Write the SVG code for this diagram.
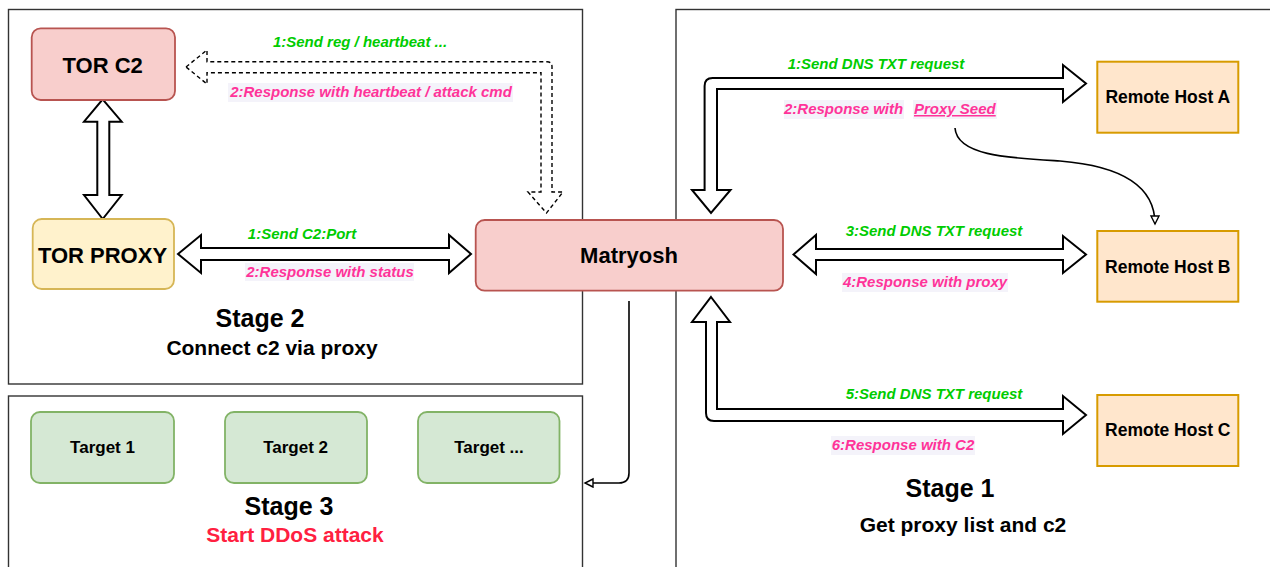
<svg xmlns="http://www.w3.org/2000/svg" width="1270" height="567" viewBox="0 0 1270 567">
<defs>
<style>
.panel{fill:#ffffff;stroke:#333333;stroke-width:1.4}
.red{fill:#f8cecc;stroke:#b85450;stroke-width:1.8}
.yel{fill:#fff2cc;stroke:#d6b656;stroke-width:1.8}
.org{fill:#ffe6cc;stroke:#d79b00;stroke-width:2}
.grn{fill:#d5e8d4;stroke:#82b366;stroke-width:1.8}
.flex{fill:#ffffff;stroke:#000000;stroke-width:2;stroke-linejoin:miter}
.dash{fill:#ffffff;stroke:#000000;stroke-width:1.4;stroke-dasharray:4 3}
.thin{fill:none;stroke:#000000;stroke-width:1.6}
.nt{font-family:"Liberation Sans",Arial,sans-serif;font-weight:bold;fill:#000000;text-anchor:middle}
.lg{font-family:"Liberation Sans",Arial,sans-serif;font-weight:bold;font-style:italic;font-size:15px;fill:#00cc00;text-anchor:middle}
.lp{font-family:"Liberation Sans",Arial,sans-serif;font-weight:bold;font-style:italic;font-size:15px;fill:#ff3399}
.lbg{fill:#f4f3fa}
</style>
<marker id="ah" markerUnits="userSpaceOnUse" markerWidth="12" markerHeight="12" refX="9" refY="5" orient="auto">
<path d="M1,1 L9,5 L1,9 Z" fill="#ffffff" stroke="#000000" stroke-width="1.4"/>
</marker>
</defs>

<g id="panels">
<rect id="panel-stage2" class="panel" x="8.5" y="9.5" width="574" height="374.5"/>
<rect id="panel-stage3" class="panel" x="8.5" y="396" width="574" height="180"/>
<rect id="panel-stage1" class="panel" x="676" y="9.5" width="610" height="570"/>
</g>

<g id="connectors">
<path class="flex" d="M102.7,99.3 L121.7,121.7 L109.3,121.7 L109.3,195 L121.7,195 L102.7,219 L84,195 L97.3,195 L97.3,121.7 L84,121.7 Z"/>
<path class="flex" d="M178,254 L201,235 L201,248 L449,248 L449,235 L471,254 L449,273 L449,260 L201,260 L201,273 Z"/>
<path class="dash" d="M186,67 L207,50 L207,61.7 L547,61.7 Q552,61.7 552,66.7 L552,192 L563,192 L546.5,213 L528,192 L541,192 L541,72.7 L207,72.7 L207,84 Z"/>
<path class="flex" d="M1086,83.5 L1063,102 L1063,89 L717,89 L717,190 L730.5,190 L711,213 L692,190 L704.6,190 L704.6,86 Q704.6,78 712.6,78 L1063,78 L1063,65 Z"/>
<path class="flex" d="M793.5,254.5 L816,235 L816,249 L1063,249 L1063,236 L1086,254.5 L1063,273 L1063,260 L816,260 L816,274 Z"/>
<path class="flex" d="M711,297 L730,322 L717,322 L717,409 L1063,409 L1063,396 L1086,415 L1063,434 L1063,421 L714,421 Q706,421 706,413 L706,322 L692,322 Z"/>
<path class="thin" d="M955,128 C957,156 1010,158 1060,161 C1122,166 1155,186 1155,224" marker-end="url(#ah)"/>
<path class="thin" d="M629,301 L629,473 Q629,483 619,483 L585,483" marker-end="url(#ah)"/>
</g>

<g id="node-tor-c2">
<rect class="red" x="31.7" y="28.3" width="143.3" height="71.7" rx="9"/>
<text class="nt" x="102.7" y="73.3" font-size="22">TOR C2</text>
</g>
<g id="node-tor-proxy">
<rect class="yel" x="32.7" y="219" width="141.3" height="70" rx="9"/>
<text class="nt" x="102.5" y="262.7" font-size="22">TOR PROXY</text>
</g>
<g id="node-matryosh">
<rect class="red" x="475.7" y="220" width="307.3" height="70.7" rx="9"/>
<text class="nt" x="629" y="262.7" font-size="22">Matryosh</text>
</g>
<g id="node-host-a">
<rect class="org" x="1097.3" y="61.7" width="141" height="71"/>
<text class="nt" x="1167.8" y="102.7" font-size="17.5">Remote Host A</text>
</g>
<g id="node-host-b">
<rect class="org" x="1097.3" y="231" width="141" height="70.7"/>
<text class="nt" x="1167.8" y="272.7" font-size="17.5">Remote Host B</text>
</g>
<g id="node-host-c">
<rect class="org" x="1097.3" y="395" width="141" height="71"/>
<text class="nt" x="1167.8" y="435.7" font-size="17.5">Remote Host C</text>
</g>
<g id="node-target-1">
<rect class="grn" x="31" y="412" width="143" height="71" rx="9"/>
<text class="nt" x="102.5" y="453.3" font-size="17">Target 1</text>
</g>
<g id="node-target-2">
<rect class="grn" x="225" y="412" width="142" height="71" rx="9"/>
<text class="nt" x="295.6" y="453.3" font-size="17">Target 2</text>
</g>
<g id="node-target-n">
<rect class="grn" x="418" y="412" width="141.5" height="71" rx="9"/>
<text class="nt" x="489" y="453.3" font-size="17">Target ...</text>
</g>

<g id="labels">
<text class="lg" x="360" y="47">1:Send reg / heartbeat ...</text>
<rect class="lbg" x="228" y="83" width="285" height="19"/>
<text class="lp" x="371" y="97" text-anchor="middle">2:Response with heartbeat / attack cmd</text>
<text class="lg" x="302" y="239">1:Send C2:Port</text>
<rect class="lbg" x="245" y="263" width="169" height="18"/>
<text class="lp" x="330" y="277" text-anchor="middle">2:Response with status</text>

<text class="lg" x="876" y="69.3">1:Send DNS TXT request</text>
<rect class="lbg" x="784" y="100" width="120" height="19"/>
<rect class="lbg" x="913" y="100" width="84" height="19"/>
<text class="lp" x="784" y="114">2:Response with <tspan x="914" text-decoration="underline">Proxy Seed</tspan></text>
<text class="lg" x="934" y="236">3:Send DNS TXT request</text>
<rect class="lbg" x="842" y="273" width="166" height="19"/>
<text class="lp" x="925" y="287" text-anchor="middle">4:Response with proxy</text>
<text class="lg" x="934" y="399">5:Send DNS TXT request</text>
<rect class="lbg" x="831" y="436" width="144" height="19"/>
<text class="lp" x="903" y="450" text-anchor="middle">6:Response with C2</text>

<text class="nt" x="260" y="327.3" font-size="25">Stage 2</text>
<text class="nt" x="272" y="355" font-size="21">Connect c2 via proxy</text>
<text class="nt" x="289" y="515" font-size="25">Stage 3</text>
<text class="nt" x="295" y="542" font-size="21" style="fill:#ff2040">Start DDoS attack</text>
<text class="nt" x="950" y="497.3" font-size="25">Stage 1</text>
<text class="nt" x="963" y="531.7" font-size="21">Get proxy list and c2</text>
</g>
</svg>
